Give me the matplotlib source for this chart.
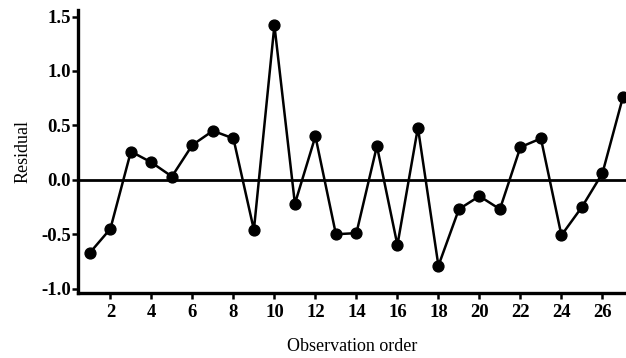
import matplotlib
matplotlib.use("Agg")
import matplotlib.pyplot as plt

order = list(range(1, 28))
residual = [-0.67, -0.45, 0.26, 0.16, 0.03, 0.32, 0.45, 0.38, -0.46, 1.42,
            -0.22, 0.40, -0.50, -0.49, 0.31, -0.60, 0.48, -0.79, -0.27, -0.15,
            -0.27, 0.30, 0.38, -0.51, -0.25, 0.06, 0.76]
xticks = [2, 4, 6, 8, 10, 12, 14, 16, 18, 20, 22, 24, 26]
yticks = [-1.0, -0.5, 0.0, 0.5, 1.0, 1.5]

plt.rcParams['font.family'] = ['Liberation Serif', 'DejaVu Serif']
fig = plt.figure(figsize=(6.26, 3.58), dpi=100)
ax = fig.add_axes([78/626, 65/358, 548/626, 283/358])

ax.axhline(0, color='black', lw=2.0, zorder=1)
ax.plot(order, residual, color='black', lw=1.8, marker='o', markersize=7.8, zorder=2)

ax.set_xlim(0.42, 27.15)
ax.set_ylim(-1.04, 1.56)
ax.set_xticks(xticks)
ax.set_yticks(yticks)
ax.set_yticklabels([f"{v:.1f}" for v in yticks])
for s in ['top', 'right']:
    ax.spines[s].set_visible(False)
for s in ['left', 'bottom']:
    ax.spines[s].set_linewidth(2.4)
ax.tick_params(axis='both', direction='out', width=1.8, length=4, labelsize=13.5)
ax.tick_params(axis='y', pad=1)
ax.tick_params(axis='x', pad=4)
for lab in ax.get_xticklabels() + ax.get_yticklabels():
    lab.set_fontweight('bold')
ax.set_xlabel('Observation order', fontsize=13, labelpad=12)
ax.set_ylabel('Residual', fontsize=13, labelpad=7)

fig.savefig('out.png', dpi=100)
